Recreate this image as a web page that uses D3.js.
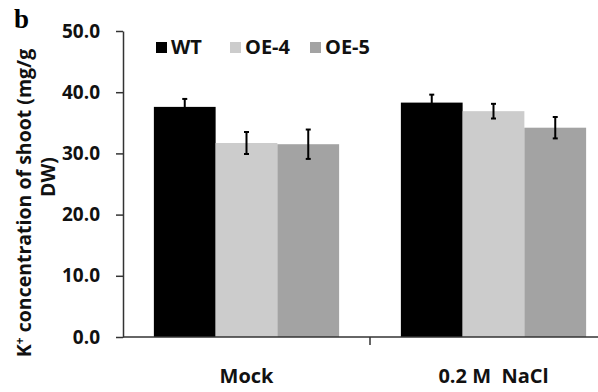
<!DOCTYPE html>
<html>
<head>
<meta charset="utf-8">
<script src="https://d3js.org/d3.v7.min.js"></script>
<style>
  body { margin: 0; background: #fff; }
  svg { display: block; font-family: "Open Sans", Lato, sans-serif; font-weight: bold; }
</style>
</head>
<body>
<script>
var categories = ["Mock", "0.2 M  NaCl"];
var seriesNames = ["WT", "OE-4", "OE-5"];
var seriesColors = ["#000000", "#cccccc", "#a3a3a3"];
var meanValues = [
  [37.6, 38.3],   // WT
  [31.7, 36.9],   // OE-4
  [31.5, 34.2]    // OE-5
];
var errValues = [
  [1.3, 1.3],
  [1.8, 1.2],
  [2.4, 1.75]
];
var yTicks = [0, 10, 20, 30, 40, 50];

var width = 598, height = 392;
var plotLeft = 123, plotRight = 617, plotTop = 31, plotBottom = 337;

var svg = d3.select("body").append("svg")
  .attr("width", width)
  .attr("height", height);

var x0 = d3.scaleBand()
  .domain(categories)
  .range([plotLeft, plotRight])
  .paddingInner(0.25)
  .paddingOuter(0.125);

var x1 = d3.scaleBand()
  .domain(seriesNames)
  .range([0, x0.bandwidth()]);

var y = d3.scaleLinear()
  .domain([0, 50])
  .range([plotBottom, plotTop]);

var color = d3.scaleOrdinal().domain(seriesNames).range(seriesColors);

// flatten for drawing
var rows = [];
seriesNames.forEach(function(s, i) {
  categories.forEach(function(c, j) {
    rows.push({series: s, cat: c, value: meanValues[i][j], err: errValues[i][j]});
  });
});

svg.append("g")
  .selectAll("rect")
  .data(rows)
  .enter()
  .append("rect")
    .attr("x", function(d) { return x0(d.cat) + x1(d.series); })
    .attr("y", function(d) { return y(d.value); })
    .attr("width", x1.bandwidth())
    .attr("height", function(d) { return y(0) - y(d.value); })
    .attr("fill", function(d) { return color(d.series); });

// error bars
var eb = svg.append("g")
  .selectAll("g")
  .data(rows)
  .enter()
  .append("g")
    .attr("transform", function(d) {
      return "translate(" + (x0(d.cat) + x1(d.series) + x1.bandwidth() / 2) + ",0)";
    });

eb.append("line")
  .attr("y1", function(d) { return y(d.value + d.err); })
  .attr("y2", function(d) { return y(d.value - d.err); })
  .attr("stroke", "#000")
  .attr("stroke-width", 2);

eb.selectAll(".cap")
  .data(function(d) { return [d.value + d.err, d.value - d.err]; })
  .enter()
  .append("line")
    .attr("class", "cap")
    .attr("x1", -2.5)
    .attr("x2", 2.5)
    .attr("y1", function(v) { return y(v); })
    .attr("y2", function(v) { return y(v); })
    .attr("stroke", "#000")
    .attr("stroke-width", 2);

// y axis
var yAxis = svg.append("g")
  .attr("transform", "translate(" + plotLeft + ",0)")
  .call(d3.axisLeft(y)
    .tickValues(yTicks)
    .tickFormat(d3.format(".1f"))
    .tickSize(7)
    .tickSizeOuter(0)
    .tickPadding(16));

yAxis.select(".domain").attr("stroke", "#333").attr("stroke-width", 1.5);
yAxis.selectAll(".tick line").attr("stroke", "#333").attr("stroke-width", 1.5);
yAxis.selectAll(".tick text")
  .attr("fill", "#111")
  .style("font-size", "19px")
  .style("font-family", "'Open Sans', sans-serif")
  .style("font-weight", "bold");

// x axis line + tick between groups
var xAxis = svg.append("g")
  .attr("transform", "translate(0," + plotBottom + ")");

xAxis.append("line")
  .attr("x1", plotLeft)
  .attr("x2", width)
  .attr("stroke", "#333")
  .attr("stroke-width", 1.5);

xAxis.selectAll(".xtick")
  .data(categories.slice(1))
  .enter()
  .append("line")
    .attr("class", "xtick")
    .attr("x1", function(d) { return x0(d) - x0.step() * x0.paddingInner() / 2; })
    .attr("x2", function(d) { return x0(d) - x0.step() * x0.paddingInner() / 2; })
    .attr("y1", 0)
    .attr("y2", 8)
    .attr("stroke", "#333")
    .attr("stroke-width", 1.5);

xAxis.selectAll(".xlabel")
  .data(categories)
  .enter()
  .append("text")
    .attr("class", "xlabel")
    .attr("x", function(d) { return x0(d) + x0.bandwidth() / 2; })
    .attr("y", 46)
    .attr("text-anchor", "middle")
    .attr("fill", "#111")
    .style("font-size", "20px")
    .style("white-space", "pre")
    .text(function(d) { return d; });

// y axis title, two lines
var ytitle = svg.append("text")
  .attr("transform", "translate(31,203) rotate(-90)")
  .attr("text-anchor", "middle")
  .attr("fill", "#111")
  .style("font-size", "19.5px");

ytitle.append("tspan")
  .attr("x", 0)
  .attr("y", 0)
  .text("K");
ytitle.append("tspan")
  .attr("dy", -7)
  .style("font-size", "12px")
  .text("+");
ytitle.append("tspan")
  .attr("dy", 7)
  .text(" concentration of shoot (mg/g");
ytitle.append("tspan")
  .attr("x", 26)
  .attr("y", 24)
  .text("DW)");

// legend
var legendX = [156, 230, 310];
var legend = svg.append("g")
  .selectAll("g")
  .data(seriesNames)
  .enter()
  .append("g")
    .attr("transform", function(d, i) { return "translate(" + legendX[i] + ",42)"; });

legend.append("rect")
  .attr("width", 11)
  .attr("height", 11)
  .attr("fill", function(d) { return color(d); });

legend.append("text")
  .attr("x", 15)
  .attr("y", 12)
  .attr("fill", "#111")
  .style("font-size", "20px")
  .text(function(d) { return d; });

// panel letter
svg.append("text")
  .attr("x", 14)
  .attr("y", 28)
  .style("font-family", "'Liberation Serif', 'DejaVu Serif', serif")
  .style("font-size", "27px")
  .style("font-weight", "bold")
  .text("b");
</script>
</body>
</html>
